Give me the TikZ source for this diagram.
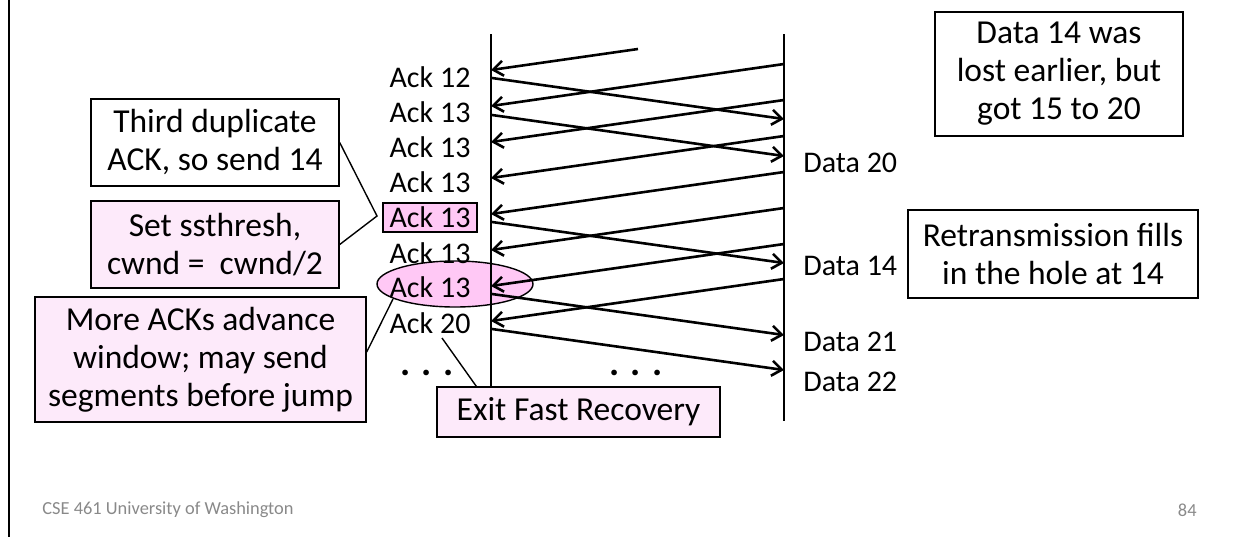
\documentclass[tikz,border=0pt]{standalone}
\usepackage{fontspec}
\setmainfont{Carlito}
\usepackage{xcolor}
\usepackage{tikz}
\usetikzlibrary{calc, arrows.meta}
\definecolor{notepink}{RGB}{253,234,250}
\definecolor{hotpink}{RGB}{255,200,245}
\definecolor{footgray}{RGB}{137,137,137}
\tikzset{
    seqdiag/.style={
        x=0.5pt, y=-0.5pt,
        timeline/.style={line width=1pt},
        msg/.style={line width=1.3pt, -{Straight Barb[length=5pt, width=7.5pt]}},
        callout/.style={line width=0.7pt},
        lbl/.style={font=\fontsize{15}{18}\selectfont, inner sep=0pt},
        dots/.style={font=\fontsize{19}{21}\selectfont\bfseries, inner sep=0pt},
        note/.style={draw, line width=0.7pt, align=center, font=\fontsize{16.75}{19}\selectfont, inner sep=0pt},
        pinknote/.style={note, fill=notepink},
        footer/.style={font=\fontsize{9.2}{11}\selectfont, text=footgray, inner sep=0pt}
    }
}

\begin{document}
\begin{tikzpicture}[seqdiag]
        % Page area and left border
        \useasboundingbox (0,0) rectangle (1233,537);
        \draw[line width=1pt] (9,0) -- (9,537);

        % Highlight round the last duplicate ack
        \coordinate (hl) at (455,284);
        \draw[fill=hotpink, line width=0.7pt] (hl) ellipse [x radius=39pt, y radius=11.5pt];
        \coordinate (hlpt) at ($(hl)+(-31pt,-7.5pt)$);

        % Sender and receiver timelines
        \coordinate (lt) at (491,34);
        \coordinate (lb) at (491,400);
        \coordinate (rt) at (784,34);
        \coordinate (rb) at (784,421);
        \draw[timeline] (lt) -- (lb);
        \draw[timeline] (rt) -- (rb);

        % Acks coming back
        \coordinate (s0) at (638,49);
        \coordinate (a0) at (491,70);
        \draw[msg] (s0) -- (a0);
        \foreach \i/\y in {1/106,2/142,3/178,4/214,5/250,6/286,7/321}{
            \coordinate (a\i) at (491,\y);
            \coordinate (s\i) at (784,{\y-42});
            \draw[msg] (s\i) -- (a\i);
        }

        % Data going out
        \foreach \i/\y in {1/78,2/115,3/222,4/294,5/329}{
            \coordinate (d\i) at (492,\y);
            \coordinate (e\i) at (784,{\y+41});
            \draw[msg] (d\i) -- (e\i);
        }

        % Ack labels
        \foreach \i/\t/\y in {1/Ack 12/77, 2/Ack 13/112, 3/Ack 13/147, 4/Ack 13/182, 6/Ack 13/253, 7/Ack 13/287, 8/Ack 20/323}
            \node[lbl] (ack\i) at (430,\y) {\t};
        \node[lbl, draw, fill=hotpink, line width=0.7pt, minimum width=47pt, minimum height=14.5pt] (ack5) at (430,217.5) {Ack 13};

        % Data labels
        \node[lbl, anchor=west] (dat20) at (803,163) {Data 20};
        \node[lbl, anchor=west] (dat14) at (803,266) {Data 14};
        \node[lbl, anchor=west] (dat21) at (803,342) {Data 21};
        \node[lbl, anchor=west] (dat22) at (803,382) {Data 22};

        % More to come
        \node[dots] (dotsl) at (427,373) {. . .};
        \node[dots] (dotsm) at (636,373) {. . .};

        % Notes
        \node[note, minimum width=124pt, minimum height=43.5pt] (third) at (215,142.5) {Third duplicate\\ACK, so send 14};
        \node[pinknote, minimum width=124pt, minimum height=43.5pt] (ssthr) at (215,244.5) {Set ssthresh,\\cwnd =\ \ cwnd/2};
        \node[pinknote, minimum width=165.5pt, minimum height=62.5pt] (moreacks) at (200.5,359.5) {More ACKs advance\\window; may send\\segments before jump};
        \node[pinknote, minimum width=141.5pt, minimum height=25pt] (exitfr) at (578.5,412) {Exit Fast Recovery};
        \node[note, minimum width=124pt, minimum height=62pt] (lost) at (1059,74) {Data 14 was\\lost earlier, but\\got 15 to 20};
        \node[note, minimum width=145pt, minimum height=44pt] (retx) at (1053,254) {Retransmission fills\\in the hole at 14};

        % Callouts
        \coordinate (tip) at (377,216);
        \draw[callout] (third.east) -- (tip) -- (ssthr.east);
        \draw[callout] ([yshift=3.75pt]moreacks.east) -- (hlpt);
        \coordinate (exitpt) at (442,338);
        \draw[callout] (exitpt) -- ([xshift=20pt]exitfr.north west);

        % Footer
        \node[footer, anchor=west] (course) at (42,510) {CSE 461 University of Washington};
        \node[footer, anchor=east] (pageno) at (1197,510) {84};
\end{tikzpicture}
\end{document}
